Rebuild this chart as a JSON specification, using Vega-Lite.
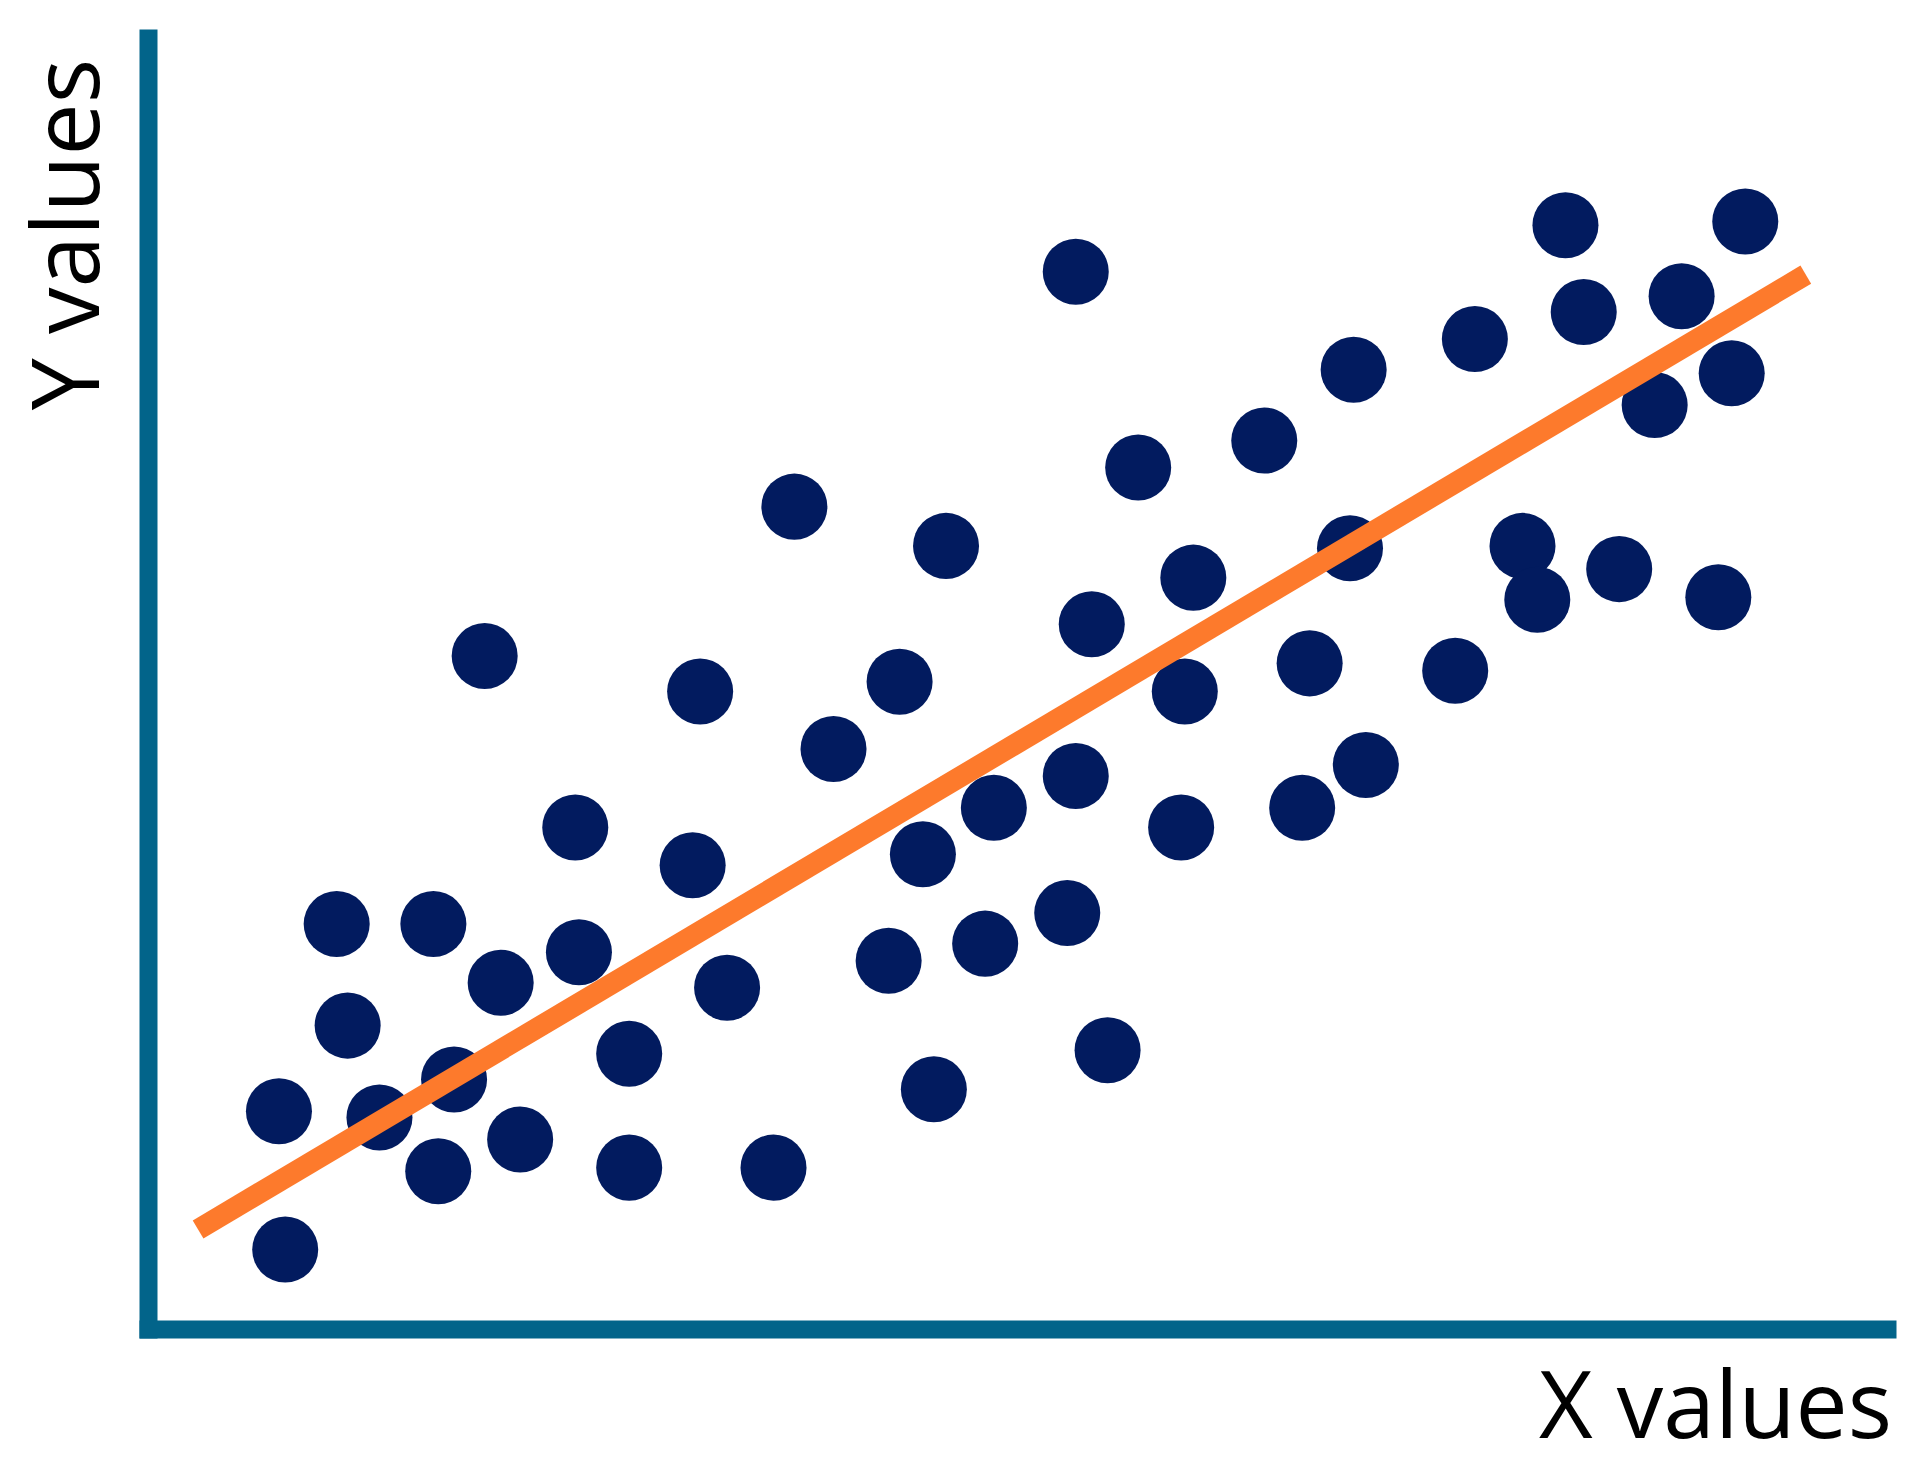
{
  "$schema": "https://vega.github.io/schema/vega-lite/v6.json",
  "autosize": {"type": "none"},
  "padding": {"left": 148, "top": 38, "right": 32, "bottom": 147},
  "width": 1739,
  "height": 1291,
  "background": "white",
  "config": {"view": {"stroke": null}},
  "layer": [
    {
      "data": {
        "values": [
          {"x": 7.53, "y": 16.86}, {"x": 7.89, "y": 6.15}, {"x": 10.85, "y": 31.37}, {"x": 11.48, "y": 23.5},
          {"x": 13.31, "y": 16.39}, {"x": 16.41, "y": 31.37}, {"x": 16.69, "y": 12.22}, {"x": 17.6, "y": 19.33},
          {"x": 19.36, "y": 52.13}, {"x": 20.28, "y": 26.82}, {"x": 21.4, "y": 14.68}, {"x": 24.57, "y": 38.85},
          {"x": 24.78, "y": 29.19}, {"x": 27.67, "y": 21.32}, {"x": 27.67, "y": 12.5}, {"x": 31.32, "y": 35.92},
          {"x": 31.75, "y": 49.38}, {"x": 33.3, "y": 26.44}, {"x": 35.97, "y": 12.5}, {"x": 37.17, "y": 63.7},
          {"x": 39.42, "y": 44.93}, {"x": 42.59, "y": 28.52}, {"x": 43.22, "y": 50.14}, {"x": 44.56, "y": 36.77},
          {"x": 45.19, "y": 18.57}, {"x": 45.89, "y": 60.66}, {"x": 48.14, "y": 29.85}, {"x": 48.64, "y": 40.37},
          {"x": 52.86, "y": 32.22}, {"x": 53.35, "y": 42.84}, {"x": 53.35, "y": 81.9}, {"x": 54.27, "y": 54.59},
          {"x": 55.18, "y": 21.6}, {"x": 56.94, "y": 66.73}, {"x": 59.41, "y": 38.85}, {"x": 59.62, "y": 49.38},
          {"x": 60.11, "y": 58.2}, {"x": 64.19, "y": 68.82}, {"x": 66.37, "y": 40.37}, {"x": 66.8, "y": 51.56},
          {"x": 69.12, "y": 60.47}, {"x": 69.33, "y": 74.31}, {"x": 70.03, "y": 43.69}, {"x": 75.17, "y": 50.99},
          {"x": 76.3, "y": 76.68}, {"x": 79.04, "y": 60.66}, {"x": 79.89, "y": 56.49}, {"x": 81.51, "y": 85.5},
          {"x": 82.56, "y": 78.77}, {"x": 84.6, "y": 58.86}, {"x": 86.64, "y": 71.57}, {"x": 88.19, "y": 80.0},
          {"x": 90.3, "y": 56.68}, {"x": 91.07, "y": 74.03}, {"x": 91.85, "y": 85.79}
        ]
      },
      "mark": {"type": "circle", "size": 4360, "color": "#021b5f", "opacity": 1, "strokeWidth": 0},
      "encoding": {
        "x": {
          "field": "x", "type": "quantitative",
          "scale": {"domain": [0, 100], "nice": false, "zero": false},
          "axis": {
            "domain": true, "domainColor": "#02648a", "domainWidth": 18, "domainCap": "square",
            "ticks": false, "labels": false, "grid": false,
            "title": "X values", "titleFont": "Open Sans", "titleFontSize": 93, "titleFontWeight": "normal",
            "titleColor": "#000000", "titleX": 1567, "titleY": 108, "titleAlign": "center", "titleBaseline": "alphabetic",
            "titleAnchor": null
          }
        },
        "y": {
          "field": "y", "type": "quantitative",
          "scale": {"domain": [0, 100], "nice": false, "zero": false},
          "axis": {
            "domain": true, "domainColor": "#02648a", "domainWidth": 18, "domainCap": "square",
            "ticks": false, "labels": false, "grid": false,
            "title": "Y values", "titleFont": "Open Sans", "titleFontSize": 93, "titleFontWeight": "normal",
            "titleColor": "#000000", "titleX": -50, "titleY": 196, "titleAngle": -90, "titleAlign": "center",
            "titleBaseline": "alphabetic", "titleAnchor": null
          }
        }
      }
    },
    {
      "data": {"values": [{"x": 2.88, "y": 7.71}, {"x": 95.33, "y": 81.67}]},
      "mark": {"type": "line", "color": "#fd7a2c", "strokeWidth": 21, "strokeCap": "butt"},
      "encoding": {
        "x": {"field": "x", "type": "quantitative"},
        "y": {"field": "y", "type": "quantitative"}
      }
    }
  ]
}
